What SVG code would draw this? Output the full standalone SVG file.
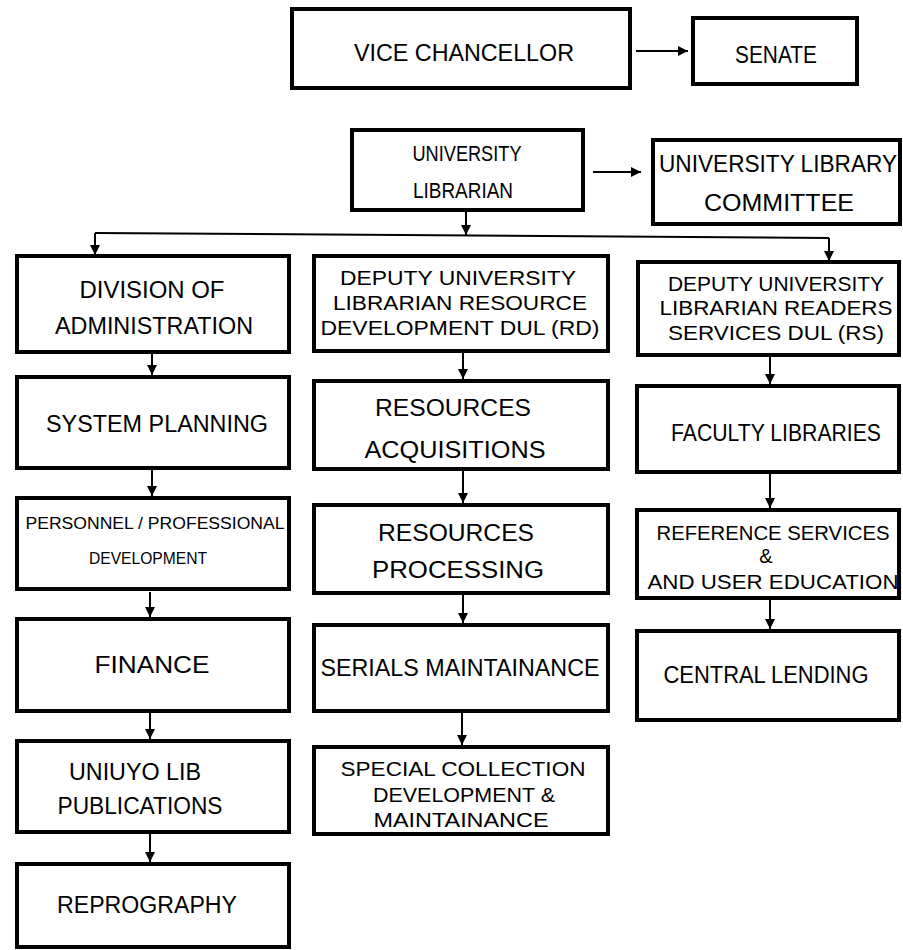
<svg xmlns="http://www.w3.org/2000/svg" width="903" height="950" viewBox="0 0 903 950">
<defs>
<marker id="ah" viewBox="0 0 10 10" refX="10" refY="5" markerWidth="11" markerHeight="10" markerUnits="userSpaceOnUse" orient="auto">
<path d="M0,0 L10,5 L0,10 Z" fill="#000"/>
</marker>
<style>
.box{fill:#fff;stroke:#000;stroke-width:4}
.t{font-family:"Liberation Sans",Arial,sans-serif;font-size:23px;fill:#000;text-anchor:middle}
.b{font-size:24px}
.u{font-size:22px}
.m{font-size:20px}
.s{font-size:16px}
.c{fill:none;stroke:#000;stroke-width:2}
</style>
</defs>
<rect width="903" height="950" fill="#fff"/>
<g id="connectors">
<line class="c" x1="636" y1="51" x2="688" y2="51" marker-end="url(#ah)"/>
<line class="c" x1="593" y1="172" x2="641" y2="172" marker-end="url(#ah)"/>
<line class="c" x1="466" y1="212" x2="466" y2="235" marker-end="url(#ah)"/>
<line class="c" x1="95" y1="233" x2="829" y2="238"/>
<line class="c" x1="95" y1="233" x2="95" y2="255" marker-end="url(#ah)"/>
<line class="c" x1="829" y1="238" x2="829" y2="261" marker-end="url(#ah)"/>
<line class="c" x1="152" y1="353" x2="152" y2="375" marker-end="url(#ah)"/>
<line class="c" x1="152" y1="470" x2="152" y2="496" marker-end="url(#ah)"/>
<line class="c" x1="150" y1="592" x2="150" y2="617" marker-end="url(#ah)"/>
<line class="c" x1="150" y1="712" x2="150" y2="739" marker-end="url(#ah)"/>
<line class="c" x1="150" y1="834" x2="150" y2="862" marker-end="url(#ah)"/>
<line class="c" x1="463" y1="353" x2="463" y2="379" marker-end="url(#ah)"/>
<line class="c" x1="463" y1="470" x2="463" y2="503" marker-end="url(#ah)"/>
<line class="c" x1="463" y1="594" x2="463" y2="623" marker-end="url(#ah)"/>
<line class="c" x1="462" y1="713" x2="462" y2="745" marker-end="url(#ah)"/>
<line class="c" x1="770" y1="357" x2="770" y2="384" marker-end="url(#ah)"/>
<line class="c" x1="770" y1="474" x2="770" y2="508" marker-end="url(#ah)"/>
<line class="c" x1="770" y1="599" x2="770" y2="629" marker-end="url(#ah)"/>
</g>
<g id="vice-chancellor"><rect class="box" x="292" y="9" width="338" height="79"/><text class="t b" x="464" y="61" textLength="220" lengthAdjust="spacingAndGlyphs">VICE CHANCELLOR</text></g>
<g id="senate"><rect class="box" x="693" y="18" width="164" height="66"/><text class="t" x="776" y="63" textLength="82" lengthAdjust="spacingAndGlyphs">SENATE</text></g>
<g id="university-librarian"><rect class="box" x="352" y="130" width="231" height="80"/><text class="t u" x="467" y="161" textLength="109" lengthAdjust="spacingAndGlyphs">UNIVERSITY</text><text class="t u" x="463" y="198" textLength="100" lengthAdjust="spacingAndGlyphs">LIBRARIAN</text></g>
<g id="library-committee"><rect class="box" x="653" y="140" width="247" height="84"/><text class="t" x="778" y="172" textLength="238" lengthAdjust="spacingAndGlyphs">UNIVERSITY LIBRARY</text><text class="t" x="779" y="211" textLength="150" lengthAdjust="spacingAndGlyphs">COMMITTEE</text></g>
<g id="division-administration"><rect class="box" x="17" y="256" width="272" height="96"/><text class="t" x="152" y="298" textLength="145" lengthAdjust="spacingAndGlyphs">DIVISION OF</text><text class="t" x="154" y="334" textLength="198" lengthAdjust="spacingAndGlyphs">ADMINISTRATION</text></g>
<g id="dul-rd"><rect class="box" x="314" y="256" width="294" height="95"/><text class="t m" x="458" y="285" textLength="236" lengthAdjust="spacingAndGlyphs">DEPUTY UNIVERSITY</text><text class="t m" x="460" y="310" textLength="254" lengthAdjust="spacingAndGlyphs">LIBRARIAN RESOURCE</text><text class="t m" x="460" y="335" textLength="279" lengthAdjust="spacingAndGlyphs">DEVELOPMENT DUL (RD)</text></g>
<g id="dul-rs"><rect class="box" x="638" y="262" width="261" height="93"/><text class="t m" x="776" y="291" textLength="216" lengthAdjust="spacingAndGlyphs">DEPUTY UNIVERSITY</text><text class="t m" x="776" y="315" textLength="233" lengthAdjust="spacingAndGlyphs">LIBRARIAN READERS</text><text class="t m" x="776" y="340" textLength="216" lengthAdjust="spacingAndGlyphs">SERVICES DUL (RS)</text></g>
<g id="system-planning"><rect class="box" x="17" y="377" width="272" height="91"/><text class="t" x="157" y="432" textLength="222" lengthAdjust="spacingAndGlyphs">SYSTEM PLANNING</text></g>
<g id="resources-acquisitions"><rect class="box" x="314" y="381" width="294" height="88"/><text class="t" x="453" y="416" textLength="156" lengthAdjust="spacingAndGlyphs">RESOURCES</text><text class="t" x="455" y="458" textLength="181" lengthAdjust="spacingAndGlyphs">ACQUISITIONS</text></g>
<g id="faculty-libraries"><rect class="box" x="637" y="386" width="262" height="86"/><text class="t" x="776" y="441" textLength="210" lengthAdjust="spacingAndGlyphs">FACULTY LIBRARIES</text></g>
<g id="personnel"><rect class="box" x="17" y="498" width="272" height="91"/><text class="t s" x="155" y="529" textLength="259" lengthAdjust="spacingAndGlyphs">PERSONNEL / PROFESSIONAL</text><text class="t s" x="148" y="564" textLength="118" lengthAdjust="spacingAndGlyphs">DEVELOPMENT</text></g>
<g id="resources-processing"><rect class="box" x="314" y="505" width="294" height="88"/><text class="t" x="456" y="541" textLength="156" lengthAdjust="spacingAndGlyphs">RESOURCES</text><text class="t" x="458" y="578" textLength="172" lengthAdjust="spacingAndGlyphs">PROCESSING</text></g>
<g id="reference-services"><rect class="box" x="637" y="510" width="262" height="88"/><text class="t m" x="773" y="540" textLength="233" lengthAdjust="spacingAndGlyphs">REFERENCE SERVICES</text><text class="t m" x="766" y="563">&amp;</text><text class="t m" x="773" y="589" textLength="251" lengthAdjust="spacingAndGlyphs">AND USER EDUCATION</text></g>
<g id="finance"><rect class="box" x="17" y="619" width="272" height="92"/><text class="t" x="152" y="673" textLength="115" lengthAdjust="spacingAndGlyphs">FINANCE</text></g>
<g id="serials"><rect class="box" x="314" y="625" width="294" height="86"/><text class="t" x="460" y="676" textLength="279" lengthAdjust="spacingAndGlyphs">SERIALS MAINTAINANCE</text></g>
<g id="central-lending"><rect class="box" x="637" y="631" width="262" height="89"/><text class="t" x="766" y="683" textLength="205" lengthAdjust="spacingAndGlyphs">CENTRAL LENDING</text></g>
<g id="uniuyo-publications"><rect class="box" x="17" y="741" width="272" height="91"/><text class="t" x="135" y="780" textLength="132" lengthAdjust="spacingAndGlyphs">UNIUYO LIB</text><text class="t" x="140" y="814" textLength="165" lengthAdjust="spacingAndGlyphs">PUBLICATIONS</text></g>
<g id="special-collection"><rect class="box" x="314" y="747" width="294" height="87"/><text class="t m" x="463" y="776" textLength="245" lengthAdjust="spacingAndGlyphs">SPECIAL COLLECTION</text><text class="t m" x="464" y="802" textLength="182" lengthAdjust="spacingAndGlyphs">DEVELOPMENT &amp;</text><text class="t m" x="461" y="827" textLength="175" lengthAdjust="spacingAndGlyphs">MAINTAINANCE</text></g>
<g id="reprography"><rect class="box" x="17" y="864" width="272" height="83"/><text class="t" x="147" y="913" textLength="180" lengthAdjust="spacingAndGlyphs">REPROGRAPHY</text></g>
</svg>
